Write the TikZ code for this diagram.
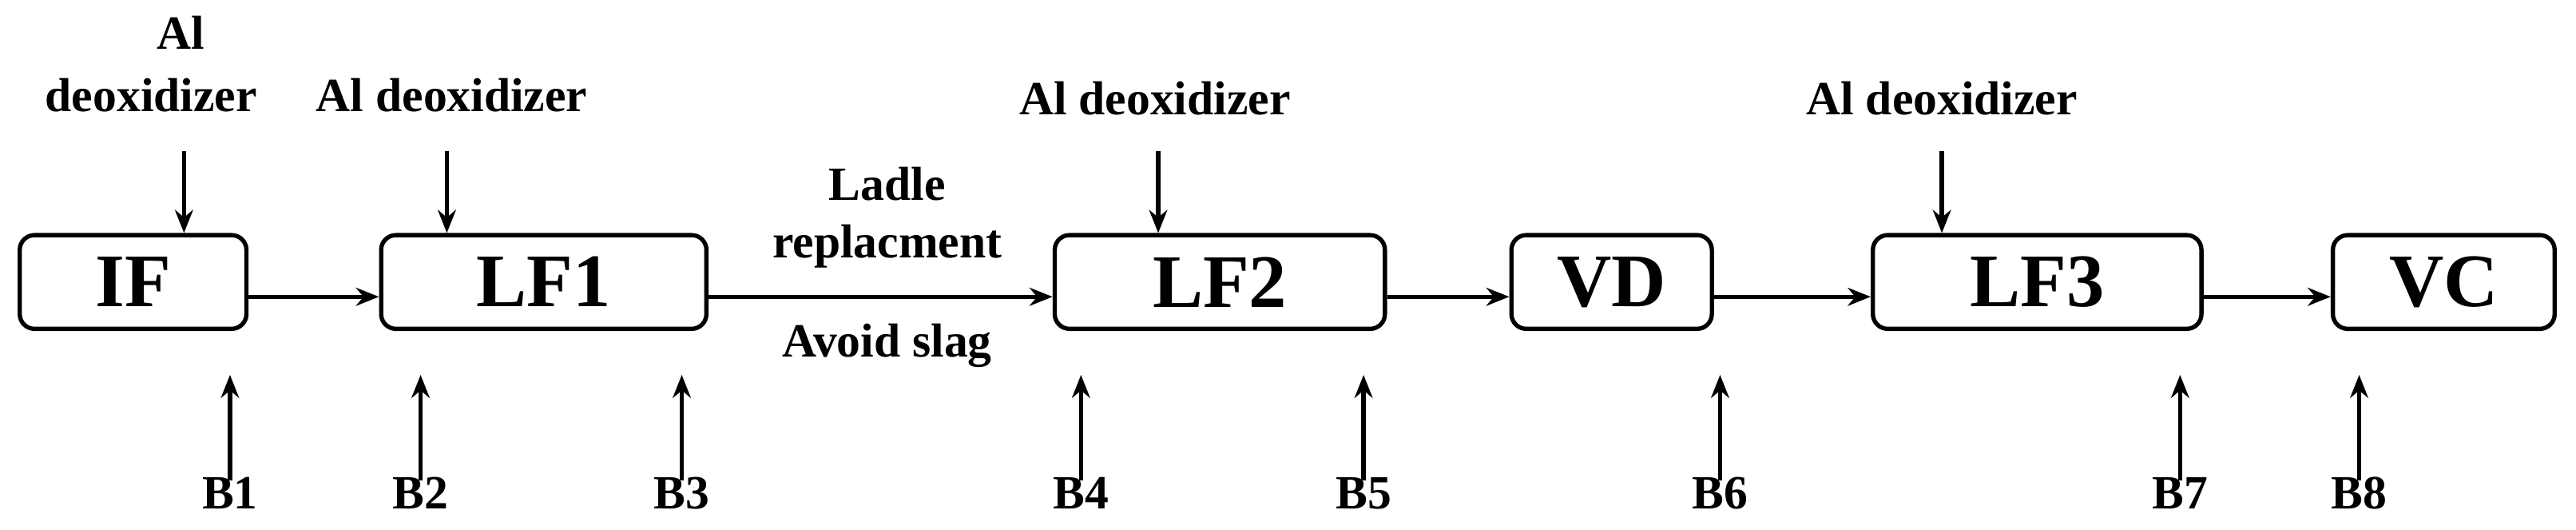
\documentclass[tikz,border=0pt]{standalone}
\usepackage{fontspec}
\setmainfont{Liberation Serif}
\usetikzlibrary{arrows.meta}
\begin{document}
\begin{tikzpicture}[x=1pt,y=-1pt,
  box/.style={draw,line width=2.6pt,rounded corners=9pt,minimum height=57pt,font=\fontsize{46}{46}\bfseries\selectfont,inner sep=0pt},
  lab/.style={font=\fontsize{29}{30}\bfseries\selectfont,inner sep=1pt,align=center},
  arr/.style={line width=2.6pt,-{Stealth[length=14pt,width=11pt]}}]
\useasboundingbox (0,0) rectangle (1568,322);
\node[box,minimum width=138pt] (IF) at (81,171.5) {IF};
\node[box,minimum width=198pt] (LF1) at (331,171.5) {LF1};
\node[box,minimum width=201pt] (LF2) at (742.5,171.5) {LF2};
\node[box,minimum width=122pt] (VD) at (981,171.5) {VD};
\node[box,minimum width=200pt] (LF3) at (1240,171.5) {LF3};
\node[box,minimum width=135pt] (VC) at (1487.5,171.5) {VC};
\foreach \a/\b in {IF/LF1,LF1/LF2,LF2/VD,VD/LF3,LF3/VC}
  \draw[arr] ([yshift=-9pt]\a.east) -- ([yshift=-9pt]\b.west);
\node[lab] at (540,112) {Ladle};
\node[lab] at (540,150) {replacment};
\node[lab] at (540,210) {Avoid slag};
% top inputs
\node[lab] (tA) at (110,20) {Al};
\node[lab] (tB) at (92,58) {deoxidizer};
\coordinate (c0) at (112,92);
\draw[arr] (c0) -- (c0 |- IF.north);
\node[lab] (t1) at (275,58) {Al deoxidizer};
\coordinate (c1) at (272,92);
\draw[arr] (c1) -- (c1 |- LF1.north);
\node[lab] (t2) at (703,60) {Al deoxidizer};
\coordinate (c2) at (705,92);
\draw[arr] (c2) -- (c2 |- LF2.north);
\node[lab] (t3) at (1182,60) {Al deoxidizer};
\coordinate (c3) at (1182,92);
\draw[arr] (c3) -- (c3 |- LF3.north);
% bottom inputs
\foreach \n/\x in {B1/140,B2/256,B3/415,B4/658,B5/830,B6/1047,B7/1327,B8/1436}{
  \node[lab] (\n) at (\x,300) {\n};
  \coordinate (e\n) at (\x,228);
  \draw[arr] ([yshift=-3pt]\n.north) -- (e\n);
}
\end{tikzpicture}
\end{document}
